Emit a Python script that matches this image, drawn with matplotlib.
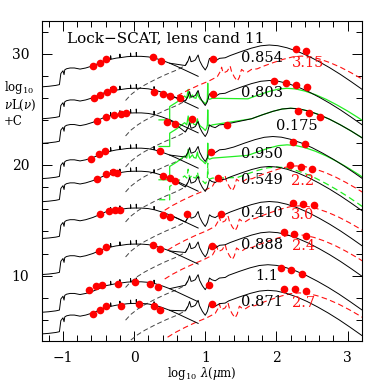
import numpy as np
import matplotlib
matplotlib.use('Agg')
import matplotlib.pyplot as plt
from matplotlib.ticker import MultipleLocator

plt.rcParams['font.family'] = ['DejaVu Serif']
plt.rcParams['mathtext.fontset'] = 'dejavuserif'

# ---- template shapes (rest-frame log10 lambda, relative level) ----
# stellar component, relative to its peak
STAR_X = np.array([-1.30, -1.20, -1.10, -1.05, -1.03, -1.00, -0.985, -0.975, -0.95, -0.90,
                   -0.84, -0.76, -0.68, -0.58, -0.48, -0.40, -0.33, -0.33, -0.325, -0.25,
                   -0.20, -0.20, -0.195, -0.10, -0.05, -0.05, -0.045, 0.00, 0.03, 0.03,
                   0.035, 0.10, 0.20, 0.28, 0.28, 0.285, 0.30, 0.40, 0.50, 0.60,
                   0.70, 0.80, 0.90])
STAR_Y = np.array([-2.75, -2.70, -2.62, -2.55, -1.55, -1.30, -1.65, -1.22, -1.12, -1.05,
                   -1.05, -1.15, -1.05, -0.85, -0.58, -0.35, -0.27, 0.05, -0.26, -0.16,
                   -0.12, 0.20, -0.12, -0.03, -0.01, 0.30, -0.01, 0.00, 0.00, 0.35,
                   0.00, 0.00, -0.05, -0.15, 0.15, -0.15, -0.18, -0.38, -0.62, -0.90,
                   -1.20, -1.50, -1.80])

# dust component (hot dust + PAH + silicate), relative to the far-IR peak
DUST_X = np.array([-0.12, -0.05, 0.05, 0.15, 0.30, 0.45, 0.60, 0.72, 0.76, 0.78,
                   0.80, 0.83, 0.86, 0.89, 0.90, 0.92, 0.96, 1.00, 1.03, 1.05,
                   1.06, 1.09, 1.14, 1.20, 1.28])
DUST_Y = np.array([-5.0, -4.5, -4.0, -3.6, -3.1, -2.65, -2.25, -1.85, -1.4, -1.0,
                   -1.5, -1.45, -1.35, -1.0, -0.9, -1.4, -1.9, -2.25, -1.9, -1.4,
                   -1.2, -1.35, -1.45, -1.2, -1.15])

# far-IR hump, offset from its peak position
FIR_DX = np.array([-0.55, -0.4, -0.25, -0.12, 0.0, 0.12, 0.25, 0.4, 0.55, 0.7,
                   0.85, 1.0, 1.15, 1.35, 1.6])
FIR_Y = np.array([-0.95, -0.6, -0.28, -0.07, 0.0, -0.06, -0.25, -0.58, -1.0, -1.5,
                  -2.05, -2.65, -3.3, -4.2, -5.4])

# alternative (green) model, mid-IR part relative to its plateau
GREEN_X = np.array([0.35, 0.50, 0.50, 0.60, 0.71, 0.74, 0.76, 0.78, 0.82, 0.84,
                    0.87, 0.89, 0.90, 0.93, 0.97, 1.00, 1.02, 1.03, 1.035, 1.04,
                    1.06, 1.10])
GREEN_Y = np.array([-1.95, -1.95, -0.75, -0.35, 0.2, 0.0, 0.8, 0.0, 0.3, 0.05,
                    0.0, 0.55, 0.2, -0.1, -0.3, -0.5, -0.3, 0.0, 1.35, 0.0,
                    -0.1, 0.0])

# ---- per-candidate values ----
lens_z = ['0.854', '0.803', '0.175', '0.950', '0.549', '0.410', '0.888', '1.1', '0.871']
star_peak = [29.78, 26.9, 24.68, 21.5, 19.42, 16.1, 12.85, 9.45, 7.5]
dust_peak = [30.8, 27.6, 24.8, 22.55, 19.85, 16.69, 13.94, 10.99, 8.68]
fir_peak = [30.8, 27.6, 25.1, 22.55, 19.85, 16.69, 13.94, 10.99, 8.68]
fir_x = [1.9, 1.9, 2.2, 1.95, 1.9, 1.9, 1.9, 1.88, 1.88]

green_rows = [1, 2, 3, 4]
green_flat = [26.0, 23.6, 20.6, 18.8]
green_peak = [26.9, 25.1, 21.8, 19.8]
green_x = [2.15, 2.2, 2.15, 2.0]

source_z = ['3.15', '2.2', '3.0', '2.4', '2.7']
red_rows = [0, 4, 5, 6, 8]
red_shift = [0.45, 0.38, 0.42, 0.38, 0.42]
red_peak = [29.8, 19.9, 16.3, 13.7, 8.45]

dots_x = [
    [-0.58, -0.48, -0.39, 0.27, 0.38, 1.11, 2.27, 2.42],
    [-0.57, -0.48, -0.38, -0.30, 0.28, 0.40, 0.50, 0.64, 1.11, 1.96, 2.13, 2.28, 2.43],
    [-0.52, -0.40, -0.28, -0.19, -0.12, 0.46, 0.57, 0.82, 1.30, 2.31, 2.46, 2.62],
    [-0.61, -0.50, -0.41, 0.36, 1.08, 2.24, 2.40],
    [-0.52, -0.40, -0.30, -0.24, 0.41, 0.50, 0.57, 1.18, 2.19, 2.35, 2.50],
    [-0.48, -0.36, -0.27, -0.20, 0.41, 0.50, 0.74, 1.22, 2.24, 2.38, 2.53],
    [-0.49, -0.40, 0.27, 0.37, 1.09, 2.11, 2.25, 2.41],
    [-0.64, -0.53, -0.45, -0.23, 0.01, 0.22, 0.34, 1.05, 2.06, 2.21, 2.36],
    [-0.58, -0.48, -0.39, -0.18, 0.07, 0.28, 0.37, 1.09, 2.11, 2.26, 2.41],
]
dots_y = [
    [28.95, 29.22, 29.52, 29.70, 29.40, 29.52, 30.48, 30.30],
    [26.06, 26.31, 26.60, 26.82, 26.60, 26.37, 26.24, 26.06, 26.40, 27.59, 27.41, 27.21, 27.00],
    [23.99, 24.30, 24.50, 24.59, 24.66, 23.90, 23.67, 24.14, 23.60, 24.89, 24.71, 24.35],
    [20.51, 20.99, 21.20, 21.20, 21.11, 22.10, 21.89],
    [18.74, 19.13, 19.31, 19.25, 18.95, 18.80, 18.50, 18.80, 20.00, 19.76, 19.64],
    [15.56, 15.86, 15.92, 15.95, 15.43, 15.29, 15.54, 15.56, 16.60, 16.49, 16.33],
    [12.25, 12.55, 12.79, 12.41, 12.70, 13.94, 13.78, 13.54],
    [8.74, 9.04, 9.19, 9.25, 9.43, 9.25, 8.98, 9.19, 10.69, 10.48, 10.15],
    [6.55, 6.94, 7.30, 7.30, 7.48, 7.30, 6.94, 7.45, 8.80, 8.80, 8.65],
]

label_x = [1.80, 1.80, 2.29, 1.80, 1.80, 1.80, 1.80, 1.86, 1.80]
label_y = [29.64, 26.51, 23.51, 20.99, 18.65, 15.68, 12.79, 9.94, 7.59]
red_label_x = [2.22, 2.20, 2.20, 2.22, 2.22]
red_label_y = [29.19, 18.5, 15.5, 12.64, 7.57]

GREEN = '#22ee22'
RED = '#ff1010'

fig = plt.figure(figsize=(3.82, 3.82), dpi=100)
ax = fig.add_axes([0.109, 0.107, 0.838, 0.839])

i05 = int(np.argmin(np.abs(STAR_X - 0.5)))
mir = DUST_X >= 0.72
hot = DUST_X <= 0.76

for i in range(len(lens_z)):
    # stellar part
    ax.plot(STAR_X, STAR_Y + star_peak[i], color='k', lw=0.7, zorder=3)
    # total (stellar tail -> dust)
    tx = np.concatenate([[STAR_X[i05]], DUST_X[mir], FIR_DX + fir_x[i]])
    ty = np.concatenate([[STAR_Y[i05] + star_peak[i]], DUST_Y[mir] + dust_peak[i],
                         FIR_Y + fir_peak[i]])
    ax.plot(tx, ty, color='k', lw=0.7, zorder=3)
    # dust component alone
    ax.plot(DUST_X[hot], DUST_Y[hot] + dust_peak[i], color='#444444', lw=0.7,
            dashes=(5, 3), zorder=2)

for j, i in enumerate(green_rows):
    gx = np.concatenate([GREEN_X, FIR_DX + green_x[j]])
    gy = np.concatenate([GREEN_Y + green_flat[j], FIR_Y + green_peak[j]])
    if j == 3:
        ax.plot(gx, gy, color=GREEN, lw=0.9, dashes=(5, 3), zorder=2)
    else:
        ax.plot(gx, gy, color=GREEN, lw=0.9, zorder=2)

for j, i in enumerate(red_rows):
    keep = DUST_X >= 0.0
    rx = np.concatenate([DUST_X[keep], FIR_DX + 1.9]) + red_shift[j]
    ry = np.concatenate([DUST_Y[keep], FIR_Y]) + red_peak[j]
    ax.plot(rx, ry, color=RED, lw=0.8, dashes=(5, 3), zorder=2)
    ax.text(red_label_x[j], red_label_y[j], source_z[j], color=RED, fontsize=10.5,
            ha='left', va='center', zorder=5)

for i in range(len(lens_z)):
    ax.plot(dots_x[i], dots_y[i], 'o', color='red', ms=5.5, mec='none', zorder=4)
    ax.text(label_x[i], label_y[i], lens_z[i], color='k', fontsize=10.5,
            ha='center', va='center', zorder=5)

ax.text(-0.94, 31.44, 'Lock\u2212SCAT, lens cand 11', fontsize=11, ha='left', va='center')

ax.set_xlim(-1.3, 3.2)
ax.set_ylim(4.1, 33.0)
ax.set_xticks([-1, 0, 1, 2, 3])
ax.set_yticks([10, 20, 30])
ax.xaxis.set_minor_locator(MultipleLocator(0.2))
ax.yaxis.set_minor_locator(MultipleLocator(2))
ax.tick_params(which='both', direction='in', top=True, right=True, width=0.7)
ax.tick_params(which='major', length=7.5, labelsize=10)
ax.tick_params(which='minor', length=4)
ax.tick_params(axis='x', pad=7)
ax.tick_params(axis='y', pad=9)
for sp in ax.spines.values():
    sp.set_linewidth(0.8)

fig.text(0.01, 0.772, r'log$_{10}$', fontsize=8.5, ha='left', va='center')
fig.text(0.01, 0.724, r'$\nu$L($\nu$)', fontsize=8.5, ha='left', va='center')
fig.text(0.01, 0.682, '+C', fontsize=8.5, ha='left', va='center')
fig.text(0.529, 0.022, r'log$_{10}$ $\lambda$($\mu$m)', fontsize=8.5, ha='center', va='center')

fig.savefig('out.png', dpi=100)
